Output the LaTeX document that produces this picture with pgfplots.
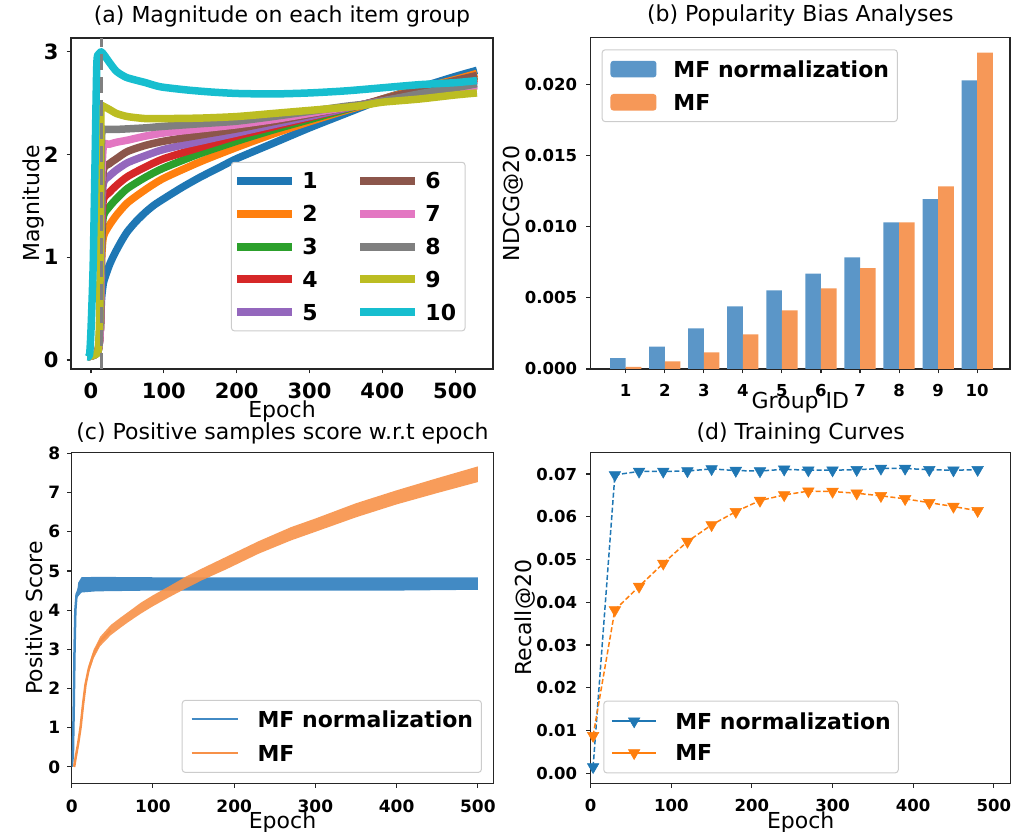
\documentclass[border=0pt]{standalone}
\usepackage{pgfplots}
\pgfplotsset{compat=1.18}
\usepackage{fontspec}
\setmainfont{DejaVu Sans}

\definecolor{c1}{RGB}{31,119,180}
\definecolor{c2}{RGB}{255,127,14}
\definecolor{c3}{RGB}{44,160,44}
\definecolor{c4}{RGB}{214,39,40}
\definecolor{c5}{RGB}{148,103,189}
\definecolor{c6}{RGB}{140,86,75}
\definecolor{c7}{RGB}{227,119,194}
\definecolor{c8}{RGB}{127,127,127}
\definecolor{c9}{RGB}{188,189,34}
\definecolor{c10}{RGB}{23,190,207}
\definecolor{bblue}{RGB}{91,150,200}
\definecolor{borange}{RGB}{246,152,88}
\definecolor{lblue}{RGB}{66,138,196}
\definecolor{lorange}{RGB}{247,145,72}

\newcommand\ftitle{\fontsize{22}{26}\selectfont}
\newcommand\fleg{\fontsize{22}{26}\selectfont\bfseries}

\pgfplotsset{
  mpl/.style={
    scale only axis, anchor=south west,
    axis line style={line width=1.2pt, black!85},
    tick align=outside, major tick length=4.5pt,
    tick style={line width=1.1pt, black!85},
    tick pos=left,
    /pgf/number format/assume math mode=true,
    title style={font=\ftitle, inner sep=0pt, anchor=south, at={(0.5,1)}},
    label style={font=\ftitle},
    legend cell align=left,
    xticklabel style={inner sep=0pt, anchor=north},
    yticklabel style={inner sep=0pt, anchor=east},
  }
}

\begin{document}
\begin{tikzpicture}[x=1pt,y=1pt]

% ---------------- (a) ----------------
\begin{axis}[mpl,
  at={(71pt,463pt)}, width=422pt, height=331pt,
  xmin=-27.5, xmax=552, ymin=-0.088, ymax=3.135,
  xtick={0,100,200,300,400,500}, ytick={0,1,2,3},
  tick label style={font=\fontsize{21}{25}\selectfont\bfseries},
  xticklabel style={yshift=-9pt}, yticklabel style={xshift=-7.7pt},
  title style={yshift=5pt},
  title={(a) Magnitude on each item group},
  xlabel={Epoch}, ylabel={Magnitude},
  xlabel style={at={(axis description cs:0.5,-0.147)}, anchor=base},
  ylabel style={at={(axis description cs:-0.0758,0.5)}, anchor=base},
  every axis plot/.append style={line width=7.5pt, line join=round, smooth, tension=0.4},
  legend columns=2,
  legend image code/.code={\draw[#1, line cap=butt] (0pt,0pt) -- (55pt,0pt);},
  legend style={at={(0.379,0.626)}, anchor=north west, draw=black!20, fill=white,
    rounded corners=3pt, line width=1pt, inner xsep=2pt, inner ysep=10.5pt,
    row sep=16.9pt, nodes={inner sep=0pt, text height=16pt, text depth=0pt, font=\fleg},
    /tikz/every odd column/.style={column sep=6pt},
    /tikz/every even column/.style={column sep=38.7pt}},
]
\addplot[c1, forget plot] coordinates {(-5,0.03) (5,0.05) (10,0.1) (13,0.35) (14.5,0.6) (17,0.75) (20,0.82) (25,0.92) (30,1.0) (35,1.07) (42,1.16) (50,1.25) (62,1.35) (75,1.44) (87,1.51) (100,1.57) (125,1.68) (150,1.78) (175,1.87) (200,1.96) (250,2.11) (300,2.26) (350,2.40) (375,2.47) (400,2.54) (450,2.65) (500,2.76) (530,2.82)};
\addplot[c2, forget plot] coordinates {(-5,0.03) (5,0.05) (10,0.1) (13,0.35) (14.5,0.96) (17,1.20) (25,1.31) (35,1.41) (50,1.53) (75,1.66) (100,1.77) (150,1.93) (200,2.07) (250,2.20) (300,2.32) (350,2.43) (375,2.48) (400,2.54) (450,2.64) (500,2.73) (530,2.79)};
\addplot[c3, forget plot] coordinates {(-5,0.03) (5,0.05) (10,0.1) (13,0.35) (14.5,1.12) (17,1.40) (25,1.49) (35,1.57) (50,1.67) (75,1.78) (100,1.87) (150,2.01) (200,2.13) (250,2.24) (300,2.34) (350,2.44) (375,2.49) (400,2.53) (450,2.62) (500,2.71) (530,2.76)};
\addplot[c4, forget plot] coordinates {(-5,0.03) (5,0.05) (10,0.1) (13,0.35) (14.5,1.25) (17,1.56) (25,1.63) (35,1.70) (50,1.785) (75,1.88) (100,1.96) (150,2.07) (200,2.18) (250,2.27) (300,2.36) (350,2.45) (375,2.49) (400,2.53) (450,2.61) (500,2.69) (530,2.74)};
\addplot[c5, forget plot] coordinates {(-5,0.03) (5,0.05) (10,0.1) (13,0.35) (14.5,1.38) (17,1.72) (25,1.79) (35,1.85) (50,1.92) (75,1.99) (100,2.05) (150,2.13) (200,2.21) (250,2.29) (300,2.37) (350,2.45) (375,2.49) (400,2.53) (450,2.60) (500,2.68) (530,2.72)};
\addplot[c6, forget plot] coordinates {(-5,0.03) (5,0.05) (10,0.1) (13,0.35) (14.5,1.48) (17,1.85) (25,1.91) (35,1.96) (50,2.03) (75,2.09) (100,2.13) (150,2.19) (200,2.25) (250,2.32) (300,2.39) (350,2.46) (375,2.49) (400,2.54) (450,2.63) (500,2.72) (530,2.77)};
\addplot[c7, forget plot] coordinates {(-5,0.03) (5,0.05) (10,0.1) (13,0.35) (14.5,1.66) (17,2.08) (25,2.10) (35,2.12) (50,2.14) (75,2.18) (100,2.21) (150,2.25) (200,2.29) (250,2.34) (300,2.40) (350,2.46) (375,2.49) (400,2.52) (450,2.58) (500,2.63) (530,2.67)};
\addplot[c8, forget plot] coordinates {(-5,0.03) (5,0.05) (10,0.1) (13,0.5) (14,1.9) (15,2.24) (17,2.245) (25,2.245) (35,2.245) (50,2.25) (75,2.26) (100,2.275) (150,2.30) (200,2.325) (250,2.37) (300,2.42) (350,2.47) (375,2.49) (400,2.52) (450,2.59) (500,2.65) (530,2.69)};
\addplot[c9, forget plot] coordinates {(-5,0.03) (5,0.05) (10,0.1) (12,0.5) (13,1.6) (13.5,2.3) (14,2.47) (17,2.47) (25,2.44) (35,2.40) (50,2.37) (75,2.35) (100,2.35) (150,2.355) (200,2.37) (250,2.40) (300,2.43) (350,2.46) (375,2.48) (400,2.51) (450,2.54) (500,2.58) (530,2.60)};
\addplot[c10, forget plot] coordinates {(-5,0.03) (-2,0.05) (0,0.3) (3,0.94) (5.5,1.92) (8,2.89) (11,2.98) (14,3.0) (18,2.97) (26,2.89) (35,2.81) (49,2.75) (75,2.70) (95,2.66) (130,2.63) (163,2.61) (200,2.595) (250,2.59) (300,2.60) (350,2.62) (400,2.65) (450,2.68) (500,2.70) (530,2.72)};
\addplot[gray, line width=3pt, sharp plot, dash pattern=on 16pt off 7pt, forget plot] coordinates {(14,-0.088) (14,3.135)};
\addlegendimage{c1, line width=8pt}\addlegendentry{1}
\addlegendimage{c6, line width=8pt}\addlegendentry{6\kern7pt}
\addlegendimage{c2, line width=8pt}\addlegendentry{2}
\addlegendimage{c7, line width=8pt}\addlegendentry{7\kern7pt}
\addlegendimage{c3, line width=8pt}\addlegendentry{3}
\addlegendimage{c8, line width=8pt}\addlegendentry{8\kern7pt}
\addlegendimage{c4, line width=8pt}\addlegendentry{4}
\addlegendimage{c9, line width=8pt}\addlegendentry{9\kern7pt}
\addlegendimage{c5, line width=8pt}\addlegendentry{5}
\addlegendimage{c10, line width=8pt}\addlegendentry{10\kern7pt}
\end{axis}

% ---------------- (b) ----------------
\begin{axis}[mpl,
  at={(590.7pt,463pt)}, width=419.3pt, height=331.3pt,
  xmin=0.104, xmax=10.84, ymin=0, ymax=0.02327,
  xtick={1,2,3,4,5,6,7,8,9,10},
  ytick={0,0.005,0.01,0.015,0.02},
  yticklabels={0.000,0.005,0.010,0.015,0.020},
  scaled y ticks=false,
  tick label style={font=\fontsize{16.5}{20}\selectfont\bfseries},
  xticklabel style={yshift=-11pt}, yticklabel style={xshift=-9pt},
  title style={yshift=5pt},
  title={(b) Popularity Bias Analyses},
  xlabel={Group ID}, ylabel={NDCG@20},
  xlabel style={at={(axis description cs:0.5,-0.118)}, anchor=base},
  ylabel style={at={(axis description cs:-0.170,0.5)}, anchor=base},
  legend image code/.code={\fill[#1] (0pt,-8.3pt) rectangle (46pt,8.3pt);},
  legend style={at={(0.0262,0.965)}, anchor=north west, draw=black!20, fill=white,
    rounded corners=3pt, line width=1pt, inner xsep=8.3pt, inner ysep=11pt,
    row sep=16.6pt, nodes={inner sep=0pt, text height=16pt, text depth=0pt, font=\fleg},
    /tikz/every odd column/.style={column sep=17pt}},
]
\addplot[ybar, bar width=0.4, bar shift=-0.2, fill=bblue, draw=none] coordinates {(1,0.00077) (2,0.00157) (3,0.00285) (4,0.0044) (5,0.00552) (6,0.00669) (7,0.00784) (8,0.01029) (9,0.01193) (10,0.02028)};
\addlegendentry{MF normalization}
\addplot[ybar, bar width=0.4, bar shift=0.2, fill=borange, draw=none] coordinates {(1,0.00014) (2,0.00054) (3,0.00117) (4,0.00243) (5,0.00412) (6,0.00566) (7,0.00709) (8,0.01029) (9,0.01282) (10,0.02222)};
\addlegendentry{MF}
\end{axis}

% ---------------- (c) ----------------
\begin{axis}[mpl,
  at={(71.7pt,48.7pt)}, width=421.6pt, height=331pt,
  xmin=0, xmax=519, ymin=-0.42, ymax=8.03,
  xtick={0,100,200,300,400,500}, ytick={0,1,2,3,4,5,6,7,8},
  tick label style={font=\fontsize{17}{20}\selectfont\bfseries},
  xticklabel style={yshift=-11.7pt}, yticklabel style={xshift=-6.7pt},
  title style={yshift=2pt},
  title={(c) Positive samples score w.r.t epoch},
  xlabel={Epoch}, ylabel={Positive Score},
  xlabel style={at={(axis description cs:0.5,-0.138)}, anchor=base},
  ylabel style={at={(axis description cs:-0.0688,0.5)}, anchor=base},
  legend image code/.code={\draw[#1] (0pt,0pt) -- (46.7pt,0pt);},
  legend style={at={(0.261,0.252)}, anchor=north west, draw=black!20, fill=white,
    rounded corners=3pt, line width=1pt, inner xsep=8.3pt, inner ysep=11pt,
    row sep=18pt, nodes={inner sep=0pt, text height=16pt, text depth=0pt, font=\fleg},
    /tikz/every odd column/.style={column sep=18.3pt}},
]
% MF normalization: fast rise, then noisy band (upper edge forward, lower edge back)
\addplot[lblue, line width=2.5pt, forget plot] coordinates {(0,0) (1.5,0.3) (2.5,1.5) (3.5,3.0) (4.5,4.0) (6,4.4) (9,4.55) (12,4.62)};
\addplot[fill=lblue, draw=none, forget plot] coordinates {(6,4.35) (8,4.7) (12,4.84) (30,4.85) (100,4.84) (200,4.84) (300,4.84) (400,4.84) (500,4.84) (500,4.52) (400,4.5) (300,4.5) (200,4.5) (100,4.5) (30,4.48) (12,4.45) (8,4.35) (6,4.3)};
% MF: slow growth, noisy band
\addplot[lorange, line width=2.5pt, forget plot] coordinates {(3,0) (5,0.25) (8,0.6) (11,1.02) (14,1.6) (17,2.1) (21,2.5) (27,2.88) (35,3.2) (48,3.49)};
\addplot[fill=lorange, fill opacity=0.9, draw=none, forget plot] coordinates {(3,0.02) (5,0.30) (8,0.66) (11,1.09) (14,1.68) (17,2.19) (21,2.6) (27,2.99) (35,3.32) (48,3.62) (60,3.81) (70,3.96) (85,4.19) (100,4.38) (120,4.61) (140,4.85) (160,5.06) (190,5.36) (230,5.76) (270,6.12) (300,6.34) (350,6.73) (400,7.06) (450,7.37) (500,7.67) (500,7.27) (450,6.99) (400,6.70) (350,6.37) (300,6.00) (270,5.78) (230,5.44) (190,5.04) (160,4.76) (140,4.55) (120,4.33) (100,4.10) (85,3.91) (70,3.70) (60,3.55) (48,3.36) (35,3.08) (27,2.77) (21,2.4) (17,2.01) (14,1.52) (11,0.95) (8,0.54) (5,0.20) (3,-0.02)};
\addlegendimage{lblue, line width=2pt}\addlegendentry{MF normalization}
\addlegendimage{lorange, line width=2pt}\addlegendentry{MF}
\end{axis}

% ---------------- (d) ----------------
\begin{axis}[mpl,
  at={(590.7pt,48.7pt)}, width=420pt, height=331pt,
  xmin=0, xmax=521, ymin=-0.00234, ymax=0.07508,
  xtick={0,100,200,300,400,500},
  ytick={0,0.01,0.02,0.03,0.04,0.05,0.06,0.07},
  yticklabels={0.00,0.01,0.02,0.03,0.04,0.05,0.06,0.07},
  scaled y ticks=false,
  tick label style={font=\fontsize{16.5}{20}\selectfont\bfseries},
  xticklabel style={yshift=-11.7pt}, yticklabel style={xshift=-9pt},
  title style={yshift=2pt},
  title={(d) Training Curves},
  xlabel={Epoch}, ylabel={Recall@20},
  xlabel style={at={(axis description cs:0.5,-0.138)}, anchor=base},
  ylabel style={at={(axis description cs:-0.1405,0.5)}, anchor=base},
  legend image code/.code={\draw[mark repeat=2,mark phase=2,#1,solid] plot coordinates {(0pt,0pt) (22.2pt,0pt) (44.3pt,0pt)};},
  legend style={at={(0.030,0.2496)}, anchor=north west, draw=black!20, fill=white,
    rounded corners=3pt, line width=1pt, inner xsep=7.4pt, inner ysep=12pt,
    row sep=15.7pt, nodes={inner sep=0pt, text height=16pt, text depth=0pt, font=\fleg},
    /tikz/every odd column/.style={column sep=18.3pt}},
]
\addplot[c1, line width=1.5pt, dash pattern=on 5pt off 2.5pt, mark=triangle*, mark size=6.7pt, mark options={rotate=180, solid, fill=c1, draw=c1, line width=0.5pt}] coordinates {(3,0.0015) (30,0.0698) (60,0.0706) (90,0.0706) (120,0.0707) (150,0.0712) (180,0.0708) (210,0.0707) (240,0.0711) (270,0.0709) (300,0.0709) (330,0.0710) (360,0.0713) (390,0.0713) (420,0.0710) (450,0.0709) (480,0.0710)};
\addlegendentry{MF normalization}
\addplot[c2, line width=1.5pt, dash pattern=on 5pt off 2.5pt, mark=triangle*, mark size=6.7pt, mark options={rotate=180, solid, fill=c2, draw=c2, line width=0.5pt}] coordinates {(3,0.0088) (30,0.0382) (60,0.0437) (90,0.0491) (120,0.0542) (150,0.0581) (180,0.0612) (210,0.0638) (240,0.0651) (270,0.0660) (300,0.0659) (330,0.0655) (360,0.0649) (390,0.0642) (420,0.0633) (450,0.0624) (480,0.0614)};
\addlegendentry{MF}
\end{axis}

\pgfresetboundingbox
\path[use as bounding box] (0,0) rectangle (1012,832);
\end{tikzpicture}
\end{document}
